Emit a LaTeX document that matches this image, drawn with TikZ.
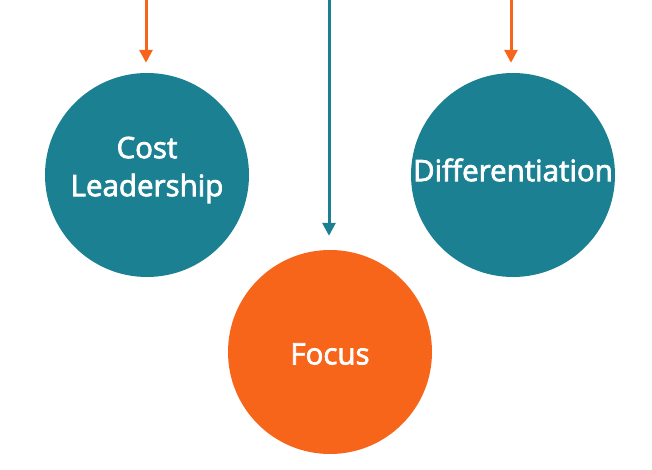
\documentclass[tikz,border=0pt]{standalone}
\usepackage{fontspec}
\setmainfont{Open Sans}
\newfontfamily\stratfont[FakeBold=2.5]{Open Sans}
\usetikzlibrary{arrows.meta, positioning}

\definecolor{tealc}{RGB}{27,128,146}
\definecolor{orangec}{RGB}{247,101,27}

\begin{document}
\begin{tikzpicture}[x=1pt,y=1pt]
            \tikzstyle{strat} = [circle, minimum size=204pt, inner sep=0pt]
            \tikzstyle{every label} = [text=white, font=\stratfont\fontsize{29.5}{38}\selectfont, align=center, inner sep=0pt]
            \tikzstyle{feed}  = [line width=3pt, -{Triangle[width=13pt,length=13pt]}]

            \useasboundingbox (0,0) rectangle (652,470);

            % Strategy circles .........................
            \node[strat, fill=tealc,   label={[yshift=5pt]center:Cost\\Leadership}] (cost)  at (147,295) {};
            \node[strat, fill=tealc,   label={[yshift=5pt]center:Differentiation}]  (diff)  at (513,295) {};
            \node[strat, fill=orangec, label={[yshift=-2pt]center:Focus}]          (focus) at (330,118) {};

            % Arrows from the top .........................
            \coordinate (costin)  at (146,470);
            \coordinate (diffin)  at (511,470);
            \coordinate (focusin) at (329,470);

            \draw[feed, orangec, shorten >=10pt] (costin) -- (cost.north -| costin);
            \draw[feed, orangec, shorten >=10pt] (diffin) -- (diff.north -| diffin);
            \draw[feed, tealc, shorten >=14pt] (focusin) -- (focus.north -| focusin);

        \end{tikzpicture}
\end{document}
